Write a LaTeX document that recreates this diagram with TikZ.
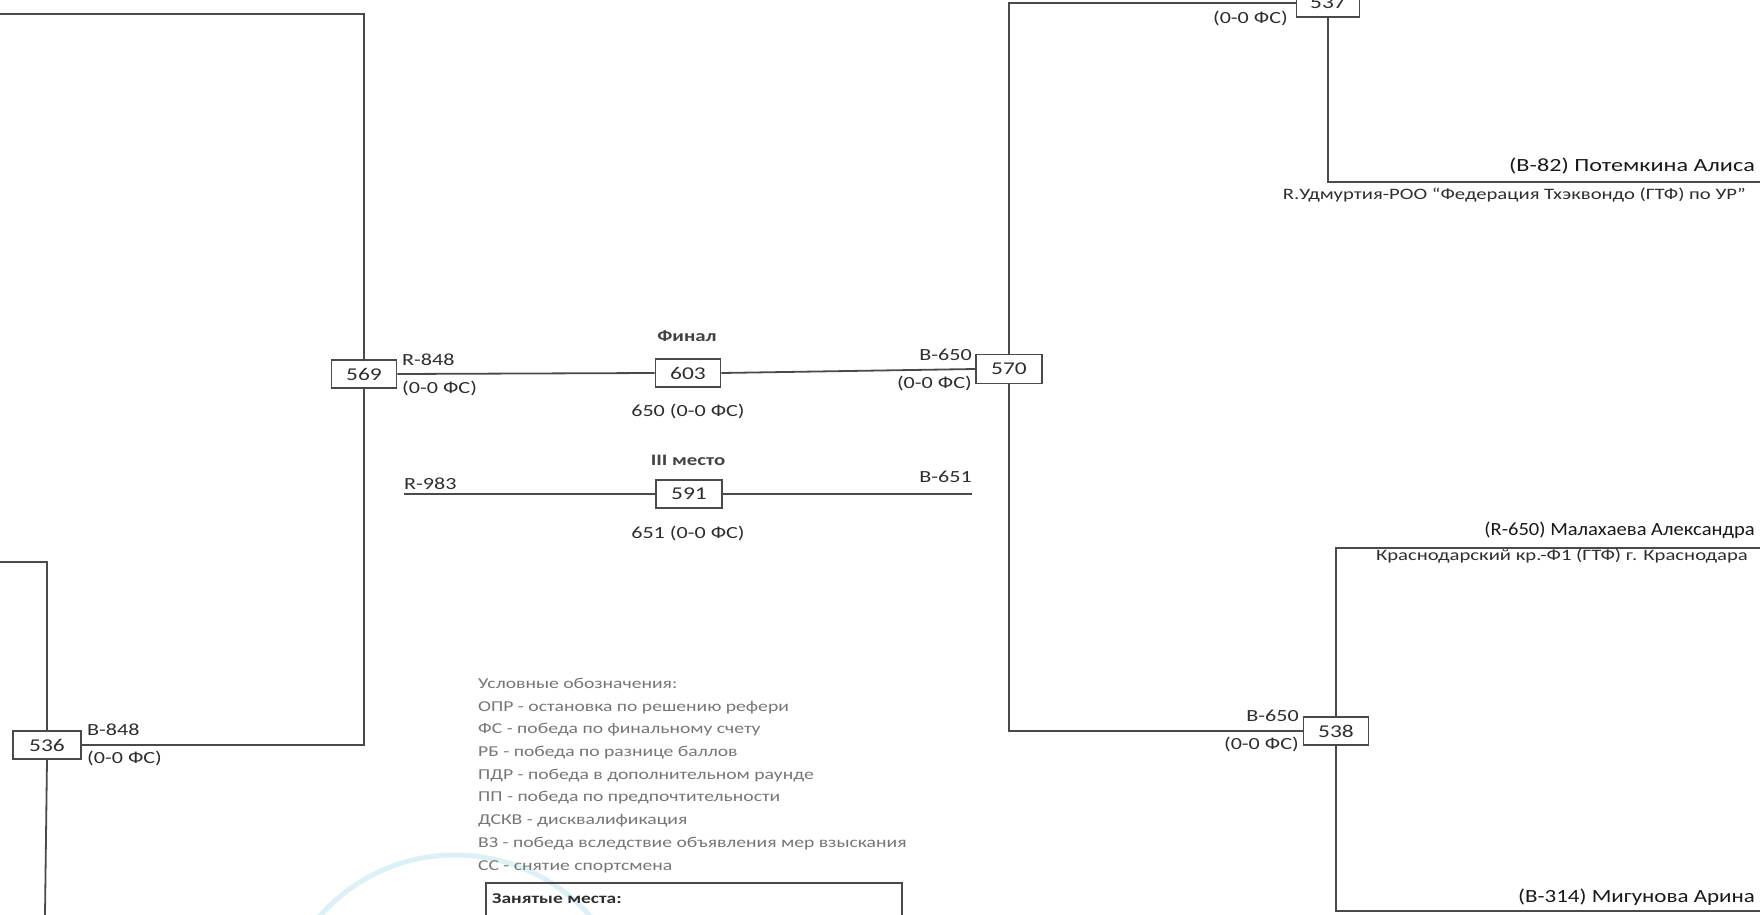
\documentclass[tikz,border=0pt]{standalone}
\usepackage{graphicx}
\usepackage{fontspec}
\setmainfont{Carlito}[FakeStretch=1.3]
\definecolor{ln}{HTML}{4A4A4A}
\definecolor{txt}{HTML}{2E2E2E}
\definecolor{lg}{HTML}{767676}
\definecolor{stamp}{HTML}{A8DCEA}
\begin{document}
\begin{tikzpicture}[x=1pt,y=-1pt,
  wire/.style={draw=ln,line width=1.8},
  numbox/.style={draw=ln,line width=1.6,fill=white,minimum width=65,minimum height=28,inner sep=0,
    font=\fontsize{18}{20}\selectfont,text=txt},
  lbl/.style={inner sep=0,font=\fontsize{17}{19}\selectfont,text=txt},
  namelbl/.style={inner sep=0,font=\fontsize{18.6}{20}\selectfont,text=black!90},
  clublbl/.style={inner sep=0,font=\fontsize{15.9}{18}\selectfont,text=txt},
  title/.style={inner sep=0,font=\fontsize{16}{18}\selectfont\bfseries,text=txt!90},
  legendtxt/.style={inner sep=0,align=left,font=\fontsize{15.1}{22.7}\selectfont,text=lg,anchor=north west}]
\useasboundingbox (0,0) rectangle (1764,915);
\clip (0,0) rectangle (1764,915);
\fill[white] (0,0) rectangle (1764,915);

% faint stamp
\draw[stamp,line width=5,opacity=0.4] (455,1035) circle[radius=180];

% boxes
\node[numbox] (b569) at (364,374) {569};
\node[numbox] (b603) at (688,373) {603};
\node[numbox,minimum width=66,minimum height=29] (b570) at (1009,369) {570};
\node[numbox,minimum width=66] (b591) at (689,494) {591};
\node[numbox,minimum width=68] (b536) at (47,745) {536};
\node[numbox] (b538) at (1336,731) {538};
\node[numbox,minimum width=63] (b537) at (1328,3) {537};

% free ends
\coordinate (tl) at (0,14);
\coordinate (cl536) at (0,562);
\coordinate (bot536) at (45,915);
\coordinate (r983) at (404,494);
\coordinate (b651) at (972,494);
\coordinate (c82) at (1760,182);
\coordinate (c650) at (1760,548);
\coordinate (c314) at (1760,911);

% connectors
\draw[wire] (tl) -| (b569.north);
\draw[wire] (b569.south) |- (b536.east);
\draw[wire] (b536.north) |- (cl536);
\draw[wire] (b536.south) -- (bot536);
\draw[wire] (b569.east) -- (b603.west);
\draw[wire] (b603.east) -- (b570.west);
\draw[wire] (r983) -- (b591.west);
\draw[wire] (b591.east) -- (b651);
\draw[wire] (b537.west) -| (b570.north);
\draw[wire] (b570.south) |- (b538.west);
\draw[wire] (b537.south) |- (c82);
\draw[wire] (b538.north) |- (c650);
\draw[wire] (b538.south) |- (c314);

% labels near boxes
\node[lbl,anchor=west] (l848a) at (402,360) {R-848};
\node[lbl,anchor=west] (l848b) at (402,388) {(0-0 ФС)};
\node[lbl,anchor=east] (l650a) at (972,355) {B-650};
\node[lbl,anchor=east] (l650b) at (972,383) {(0-0 ФС)};
\node[lbl,anchor=east] (l537b) at (1288,18) {(0-0 ФС)};
\node[lbl,anchor=east] (l538a) at (1299,716) {B-650};
\node[lbl,anchor=east] (l538b) at (1299,744) {(0-0 ФС)};
\node[lbl,anchor=west] (l536a) at (87,730) {B-848};
\node[lbl,anchor=west] (l536b) at (87,758) {(0-0 ФС)};
\node[lbl,anchor=west] (l983) at (404,484) {R-983};
\node[lbl,anchor=east] (l651) at (972,477) {B-651};

% finals
\node[title] (tfin) at (687,336) {Финал};
\node[lbl] (r603) at (688,411) {650 (0-0 ФС)};
\node[title] (t3) at (688,460) {III место};
\node[lbl] (r591) at (688,533) {651 (0-0 ФС)};

% competitors
\node[namelbl,anchor=east] (n82) at (1755,166) {(B-82) Потемкина Алиса};
\node[clublbl,anchor=east] (c82t) at (1746,195) {R.Удмуртия-РОО “Федерация Тхэквондо (ГТФ) по УР”};
\node[namelbl,anchor=east] (n650) at (1755,530) {\scalebox{0.85}[1]{(R-650) Малахаева Александра}};
\node[clublbl,anchor=east] (c650t) at (1748,556) {Краснодарский кр.-Ф1 (ГТФ) г. Краснодара};
\node[namelbl,anchor=east] (n314) at (1755,897) {\scalebox{0.95}[1]{(B-314) Мигунова Арина}};

% legend
\node[legendtxt] (legend) at (478,678) {Условные обозначения:\\
ОПР - остановка по решению рефери\\
ФС - победа по финальному счету\\
РБ - победа по разнице баллов\\
ПДР - победа в дополнительном раунде\\
ПП - победа по предпочтительности\\
ДСКВ - дисквалификация\\
ВЗ - победа вследствие объявления мер взыскания\\
СС - снятие спортсмена};
\draw[draw=ln,line width=1.6] (486,935) -- (486,883) -- (902,883) -- (902,935);
\node[inner sep=0,anchor=west,font=\fontsize{15}{17}\selectfont\bfseries,text=txt] (placed) at (492,899) {Занятые места:};
\end{tikzpicture}
\end{document}
